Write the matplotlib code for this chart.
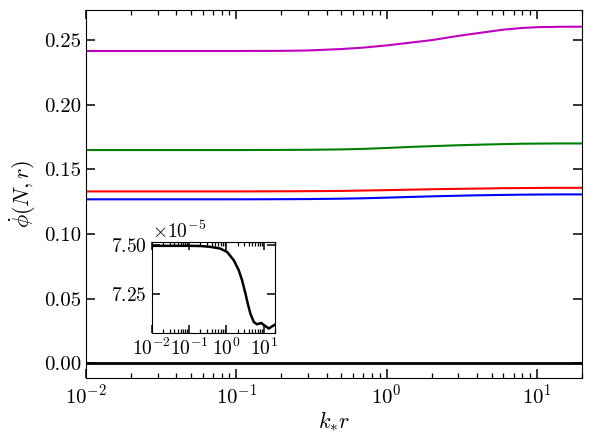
import numpy as np
import matplotlib
matplotlib.use("Agg")
import matplotlib.pyplot as plt
from matplotlib.ticker import ScalarFormatter, LogLocator, NullFormatter

plt.rcParams['font.family'] = 'cmr10'
plt.rcParams['mathtext.fontset'] = 'cm'
plt.rcParams['axes.formatter.use_mathtext'] = True
plt.rcParams['axes.unicode_minus'] = False

# data
kr = [0.01, 0.03, 0.1, 0.2, 0.3, 0.5, 0.7, 1.0, 1.5, 2.0, 3.0, 4.0, 6.0, 8.0, 10.0, 14.0, 20.0]
phi_magenta = [0.2415, 0.2415, 0.2415, 0.2416, 0.2419, 0.2430, 0.2441, 0.2458, 0.2482, 0.2499,
               0.2532, 0.2552, 0.2580, 0.2593, 0.2599, 0.2602, 0.2603]
phi_green = [0.1649, 0.1649, 0.1649, 0.1650, 0.1651, 0.1654, 0.1658, 0.1665, 0.1674, 0.1679,
             0.1686, 0.1690, 0.1695, 0.1698, 0.1699, 0.1700, 0.1700]
phi_red = [0.1329, 0.1329, 0.1329, 0.1330, 0.1331, 0.1333, 0.1336, 0.1339, 0.1343, 0.1346,
           0.1349, 0.1351, 0.1354, 0.1355, 0.1356, 0.1357, 0.1357]
phi_blue = [0.1268, 0.1268, 0.1268, 0.1269, 0.1270, 0.1273, 0.1276, 0.1281, 0.1287, 0.1291,
            0.1296, 0.1299, 0.1302, 0.1304, 0.1305, 0.1306, 0.1306]
phi_black = [0.0] * len(kr)

kr_inset = [0.01, 0.1, 0.2, 0.363, 0.68, 1.05, 1.58, 2.14, 2.63, 3.24, 3.74, 4.4, 5.4,
            6.6, 8.5, 11.2, 13.7, 16.9, 20.0]
phi_inset = [7.497, 7.497, 7.496, 7.492, 7.483, 7.465, 7.422, 7.371, 7.319, 7.250, 7.198,
             7.146, 7.103, 7.091, 7.098, 7.081, 7.069, 7.081, 7.089]
inset_scale = 1e-5
xlim = (1e-2, 20)
ylim = (-0.0116, 0.2732)

fig = plt.figure(figsize=(5.93, 4.42), dpi=100)
ax = fig.add_axes([0.145, 0.1441, 0.8365, 0.8333])
ax.plot(kr, phi_magenta, color='m', lw=1.5)
ax.plot(kr, phi_green, color='g', lw=1.5)
ax.plot(kr, phi_red, color='r', lw=1.5)
ax.plot(kr, phi_blue, color='b', lw=1.5)
ax.plot(kr, phi_black, color='k', lw=2.0)
ax.set_xscale('log')
ax.set_xlim(*xlim)
ax.set_ylim(*ylim)
ax.set_yticks([0.0, 0.05, 0.10, 0.15, 0.20, 0.25])
ax.set_yticklabels(['0.00', '0.05', '0.10', '0.15', '0.20', '0.25'])
ax.tick_params(which='both', direction='in', top=True, right=True, labelsize=15)
ax.tick_params(which='major', length=6.5, width=1.1)
ax.tick_params(which='minor', length=3.5, width=0.9)
ax.set_xlabel(r'$k_{*}r$', fontsize=16)
ax.set_ylabel(r'$\dot{\phi}(N,r)$', fontsize=16)
ax.xaxis.set_label_coords(0.5, -0.083)
ax.yaxis.set_label_coords(-0.097, 0.5)

ins = fig.add_axes([0.2558, 0.2473, 0.2079, 0.2059])
ins.plot(kr_inset, [v * inset_scale for v in phi_inset], color='k', lw=1.8)
ins.set_xscale('log')
ins.set_xlim(*xlim)
ins.set_xticks([1e-2, 1e-1, 1e0, 1e1])
ins.xaxis.set_minor_locator(LogLocator(base=10, subs=np.arange(2, 10)))
ins.xaxis.set_minor_formatter(NullFormatter())
ins.set_yticks([7.25e-5, 7.50e-5])
fmt = ScalarFormatter(useMathText=True)
fmt.set_powerlimits((-3, 3))
ins.yaxis.set_major_formatter(fmt)
ins.tick_params(which='both', direction='in', top=True, right=True, labelsize=14)
ins.tick_params(which='major', length=6, width=1.1)
ins.tick_params(which='minor', length=3, width=0.9)
ins.yaxis.get_offset_text().set_fontsize(14)

fig.savefig('out.png', dpi=100)
